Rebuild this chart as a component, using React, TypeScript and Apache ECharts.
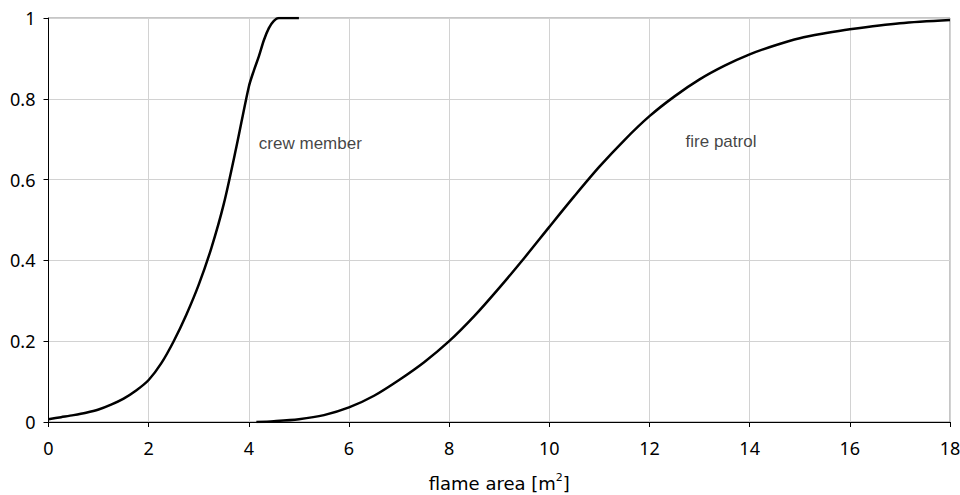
import React, { useEffect, useRef } from "react";
import * as echarts from "echarts";

const crewX = [0, 0.25, 0.5, 0.75, 1, 1.25, 1.5, 1.75, 2, 2.25, 2.5, 2.75, 3, 3.25, 3.5, 3.75, 4, 4.1, 4.2, 4.3, 4.4, 4.5, 4.6, 5];
const crewY = [0.007, 0.012, 0.017, 0.023, 0.031, 0.043, 0.058, 0.078, 0.104, 0.145, 0.2, 0.265, 0.34, 0.43, 0.54, 0.68, 0.83, 0.87, 0.905, 0.945, 0.975, 0.993, 1, 1];

const fireX = [4.15, 4.5, 5, 5.5, 6, 6.5, 7, 7.5, 8, 8.5, 9, 9.5, 10, 10.5, 11, 11.5, 12, 12.5, 13, 13.5, 14, 14.5, 15, 15.5, 16, 17, 18];
const fireY = [0, 0.002, 0.007, 0.017, 0.036, 0.065, 0.104, 0.148, 0.2, 0.262, 0.332, 0.406, 0.483, 0.559, 0.632, 0.698, 0.757, 0.806, 0.848, 0.882, 0.91, 0.932, 0.95, 0.962, 0.972, 0.987, 0.995];

const annotations = [
  { text: "crew member", x: 4.2, y: 0.69 },
  { text: "fire patrol", x: 12.72, y: 0.694 },
];

const xTitle = "flame area [m{sup|2}]";

export default function App() {
  const ref = useRef<HTMLDivElement>(null);
  useEffect(() => {
    if (!ref.current) return;
    const chart = echarts.init(ref.current, null, { renderer: "svg" });
    const lineStyle = { color: "#000", width: 2.5 };
    chart.setOption({
      animation: false,
      backgroundColor: "#fff",
      grid: {
        left: 48.5,
        right: 10,
        top: 18,
        bottom: 73,
        show: true,
        borderColor: "#8c8c8c",
        borderWidth: 1,
        containLabel: false,
        outerBoundsMode: "none",
      },
      xAxis: {
        type: "value",
        min: 0,
        max: 18,
        interval: 2,
        name: xTitle,
        nameLocation: "middle",
        nameGap: 50,
        nameTextStyle: {
          fontFamily: "DejaVu Sans",
          fontSize: 18,
          color: "#000",
          lineHeight: 22,
          rich: {
            sup: { fontSize: 11, verticalAlign: "top", lineHeight: 14, fontFamily: "DejaVu Sans", color: "#000" },
          },
        },
        axisLine: { show: true, onZero: false, lineStyle: { color: "#000", width: 1 } },
        axisTick: { show: true, length: 5, lineStyle: { color: "#000" } },
        axisLabel: { fontFamily: "Noto Sans", fontSize: 18, color: "#000", margin: 17 },
        splitLine: { show: true, lineStyle: { color: "#d2d2d2", width: 1 } },
      },
      yAxis: {
        type: "value",
        min: 0,
        max: 1,
        interval: 0.2,
        axisLine: { show: true, onZero: false, lineStyle: { color: "#000", width: 1 } },
        axisTick: { show: true, length: 5, lineStyle: { color: "#000" } },
        axisLabel: { fontFamily: "Noto Sans", fontSize: 18, color: "#000", margin: 13 },
        splitLine: { show: true, lineStyle: { color: "#d2d2d2", width: 1 } },
      },
      series: [
        {
          type: "line",
          name: "crew member",
          data: crewX.map((x, i) => [x, crewY[i]]),
          showSymbol: false,
          symbol: "none",
          smooth: 0.3,
          lineStyle,
          z: 3,
        },
        {
          type: "line",
          name: "fire patrol",
          data: fireX.map((x, i) => [x, fireY[i]]),
          showSymbol: false,
          symbol: "none",
          smooth: 0.3,
          lineStyle,
          z: 3,
        },
        {
          type: "scatter",
          symbolSize: 0,
          silent: true,
          data: annotations.map((a) => ({ value: [a.x, a.y], name: a.text })),
          label: {
            show: true,
            position: [0, 0],
            align: "left",
            verticalAlign: "middle",
            formatter: (p: any) => p.name,
            fontFamily: "Liberation Sans",
            fontSize: 17,
            color: "#111",
          },
          z: 4,
        },
      ],
    });
    return () => chart.dispose();
  }, []);
  return (
    <div
      ref={ref}
      style={{ position: "absolute", left: 0, top: 0, width: 960, height: 495 }}
    />
  );
}
